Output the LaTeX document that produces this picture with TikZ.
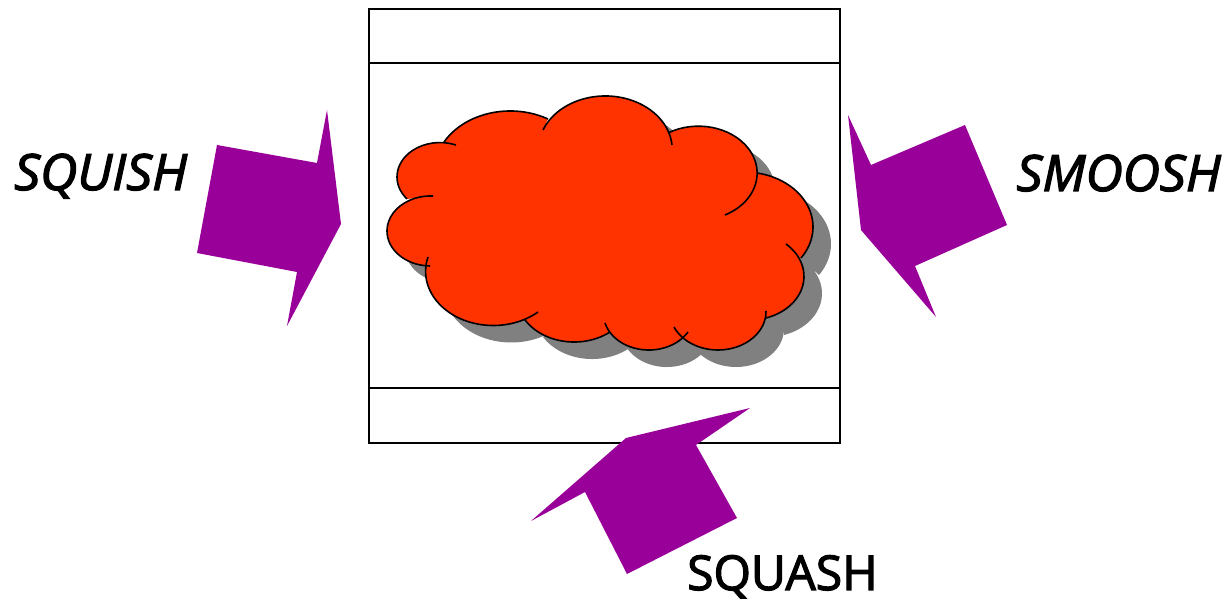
\documentclass[tikz,border=0pt]{standalone}
\usepackage{fontspec}
\setmainfont{Open Sans}
\newfontfamily\slantword[FakeBold=2.5,FakeStretch=1.03,ItalicFeatures={FakeBold=2.5,FakeStretch=1.03}]{Open Sans}
\newfontfamily\plainword[FakeBold=2.5]{Open Sans}
\definecolor{cloudred}{HTML}{FF3300}
\definecolor{arrowpurple}{HTML}{990099}
\definecolor{shadowgray}{HTML}{808080}
\tikzset{
  frameline/.style={draw=black,line width=1.5pt},
  cloudline/.style={draw=black,line width=1.6pt,line cap=butt},
  pusharrow/.style={fill=arrowpurple,draw=none},
  wordlabel/.style={inner sep=0pt,font=\slantword\fontsize{50}{54}\selectfont\itshape},
  wordupright/.style={inner sep=0pt,font=\plainword\fontsize{48}{52}\selectfont}
}
% elliptical arc through three points, given in screen pixels (y downward), clockwise on screen
\def\Kx{1.25}
\gdef\cloudfillpath{}
\gdef\cloudstrokepath{}
\newcommand\bump[6]{%
  \pgfmathsetmacro\Bx{(#3-#1)/10/\Kx}\pgfmathsetmacro\By{(#2-#4)/10}%
  \pgfmathsetmacro\Cx{(#5-#1)/10/\Kx}\pgfmathsetmacro\Cy{(#2-#6)/10}%
  \pgfmathsetmacro\Dd{2*(\Bx*\Cy-\By*\Cx)}%
  \pgfmathsetmacro\Bs{\Bx*\Bx+\By*\By}\pgfmathsetmacro\Cs{\Cx*\Cx+\Cy*\Cy}%
  \pgfmathsetmacro\Ux{(\Cy*\Bs-\By*\Cs)/\Dd}\pgfmathsetmacro\Uy{(\Bx*\Cs-\Cx*\Bs)/\Dd}%
  \pgfmathsetmacro\Rr{10*sqrt(\Ux*\Ux+\Uy*\Uy)}%
  \pgfmathsetmacro\Rh{\Rr*\Kx}%
  \pgfmathsetmacro\Aa{atan2(-\Uy,-\Ux)}%
  \pgfmathsetmacro\Ab{atan2(\Cy-\Uy,\Cx-\Ux)}%
  \pgfmathsetmacro\Ab{\Ab>\Aa ? \Ab-360 : \Ab}%
  \pgfmathsetmacro\Py{600-#2}%
  \xdef\cloudfillpath{\cloudfillpath -- (#1,\Py) arc[start angle=\Aa,end angle=\Ab,x radius=\Rh pt,y radius=\Rr pt]}%
  \xdef\cloudstrokepath{\cloudstrokepath (#1,\Py) arc[start angle=\Aa,end angle=\Ab,x radius=\Rh pt,y radius=\Rr pt]}%
}
\begin{document}
\begin{tikzpicture}[x=1pt,y=1pt]
\useasboundingbox (0,0) rectangle (1227,600);
% frame
\path[frameline,fill=white] (369,591) rectangle (840,157);
\draw[frameline] (369,537) -- (840,537);
\draw[frameline] (369,212) -- (840,212);
% cloud
\bump{444}{142}{508}{111}{548}{119}
\bump{543}{130}{607}{96}{672}{145}
\bump{668}{133}{757}{170}{725}{215}
\bump{757}{173}{813}{227}{801}{258}
\bump{786}{244}{804}{277}{766}{318}
\bump{766}{311}{717}{350}{674}{327}
\bump{688}{332}{647}{350}{605}{323}
\bump{610}{332}{572}{342}{525}{320}
\bump{538}{312}{450}{313}{428}{257}
\bump{430}{266}{387}{230}{433}{196}
\bump{407}{199}{397}{177}{456}{145}
\edef\cloudshadow{\noexpand\fill[shadowgray,shift={(18,-17)}] (444,458) \cloudfillpath -- cycle;}
\cloudshadow
\edef\cloudbody{\noexpand\fill[cloudred] (444,458) \cloudfillpath -- cycle;}
\cloudbody
\edef\cloudedge{\noexpand\draw[cloudline] \cloudstrokepath;}
\cloudedge
% arrows
\fill[pusharrow] (217,455) -- (317,437) -- (327,490) -- (341,376) -- (287,274) -- (297,328) -- (197,347) -- cycle;
\fill[pusharrow] (965,475) -- (1007,375) -- (915,334) -- (936,283) -- (861,370) -- (848,485) -- (871,435) -- cycle;
\fill[pusharrow] (626,162) -- (750,192) -- (696,155) -- (737,82) -- (627,26) -- (585,108) -- (531,79) -- cycle;
% labels
\node[wordlabel,anchor=base west] (squish) at (14,410) {SQUISH};
\node[wordlabel,anchor=base east] (smoosh) at (1221,409) {SMOOSH};
\node[wordupright,anchor=base west] (squash) at (687,10) {SQUASH};
\end{tikzpicture}
\end{document}
